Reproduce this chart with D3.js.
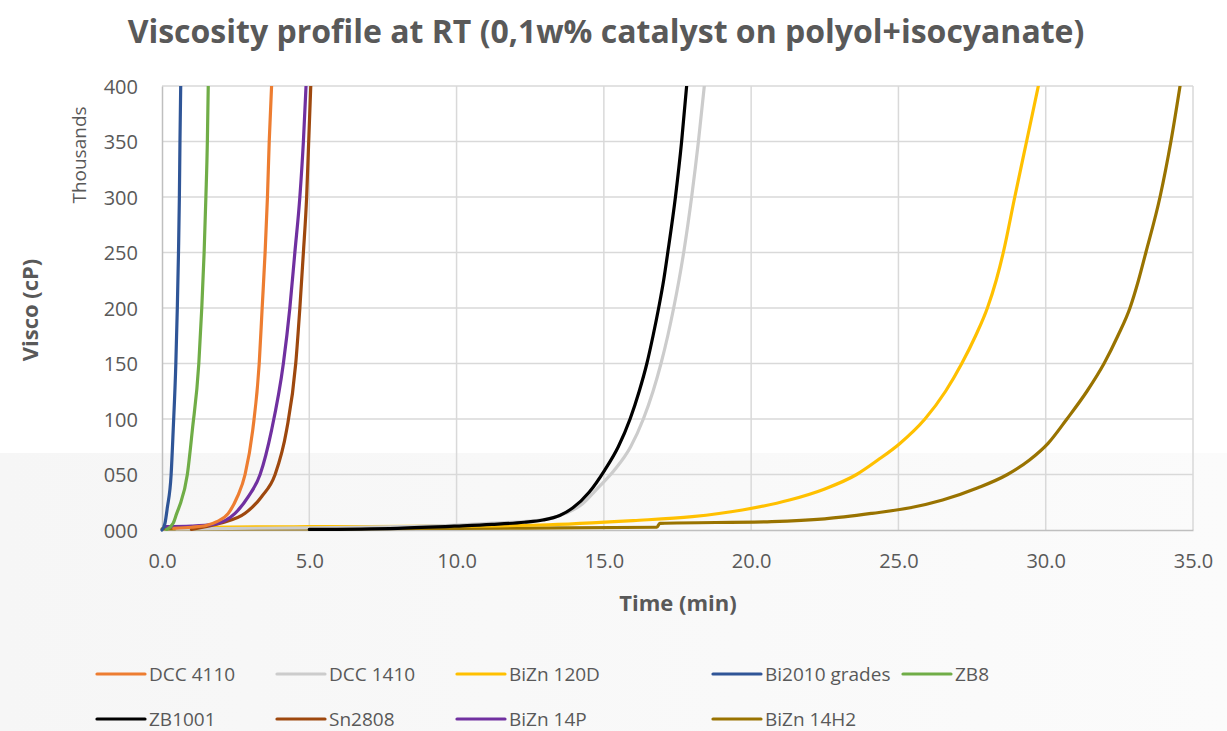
<!DOCTYPE html>
<html>
<head>
<meta charset="utf-8">
<script src="https://cdn.jsdelivr.net/npm/d3@7"></script>
<style>
  body { margin: 0; background: #fff; }
  svg { display: block; font-family: "Open Sans", sans-serif; }
</style>
</head>
<body>
<svg id="chart" width="1227" height="731"></svg>
<script>
// series names and colours, in legend order
var seriesNames = ["DCC 4110", "DCC 1410", "BiZn 120D", "Bi2010 grades", "ZB8",
                   "ZB1001", "Sn2808", "BiZn 14P", "BiZn 14H2"];
var seriesColors = ["#ED7D31", "#CCCCCC", "#FFC000", "#2F5597", "#70AD47",
                    "#000000", "#9E480E", "#7030A0", "#997300"];

// [time (min), viscosity (thousand cP)]
var dcc4110 = [[0.4,1.5],[1.0,2.5],[1.5,4],[1.86,7.5],[2.25,15],[2.56,30],[2.82,50],[3.08,90],[3.3,150],[3.4,200],[3.5,250],[3.58,300],[3.64,350],[3.72,400]];
var dcc1410 = [[0.5,1],[5,2],[8,3],[10,4.5],[11.5,6.5],[12.5,8],[13.1,10],[13.7,15],[14.2,22],[14.8,38],[15.36,54],[15.91,75],[16.34,100],[16.67,125],[16.94,150],[17.17,175],[17.37,200],[17.55,225],[17.71,250],[17.98,300],[18.21,350],[18.41,400]];
var bizn120d = [[1.5,2.5],[5,3],[10,3.5],[12.8,4.5],[16,8.5],[18,12],[19.7,18],[21.3,27],[22.5,37],[23.58,50],[24.3,63],[25.05,78],[25.9,100],[26.6,125],[27.15,150],[27.62,175],[28.02,200],[28.32,225],[28.56,250],[28.95,300],[29.35,350],[29.75,400]];
var bi2010 = [[0,0],[0.1,6],[0.18,20],[0.31,50],[0.38,90],[0.47,150],[0.52,200],[0.56,250],[0.59,300],[0.61,350],[0.635,400]];
var zb8 = [[0.16,0.5],[0.38,6],[0.5,15],[0.6,22],[0.86,50],[1.03,90],[1.25,150],[1.35,200],[1.43,250],[1.49,300],[1.54,350],[1.57,400]];
var zb1001 = [[5,0.5],[8,1.5],[10,3.5],[11.2,5],[12.3,7],[12.93,9],[13.5,13],[13.95,20],[14.5,34],[15.03,54],[15.49,75],[15.89,100],[16.2,125],[16.46,150],[16.67,175],[16.86,200],[17.03,225],[17.17,250],[17.43,300],[17.64,350],[17.81,400]];
var sn2808 = [[1.0,0.5],[1.97,6],[2.82,15],[3.38,30],[3.84,50],[4.23,90],[4.54,150],[4.68,200],[4.8,250],[4.91,300],[4.98,350],[5.05,400]];
var bizn14p = [[0.1,3],[1.0,3.5],[1.74,5],[2.48,15],[2.93,30],[3.33,50],[3.72,90],[4.12,150],[4.34,200],[4.51,250],[4.68,300],[4.8,350],[4.89,400]];
var bizn14h2 = [[0,1],[5,1],[10,1.5],[16.8,2.5],[16.9,6],[20.7,7.5],[22.5,10],[24.1,15],[25.4,20],[26.5,27],[27.7,38],[28.7,50],[29.45,63],[30.08,78],[30.72,100],[31.4,125],[31.98,150],[32.45,175],[32.86,200],[33.15,225],[33.4,250],[33.88,300],[34.25,350],[34.56,400]];
var seriesData = [dcc4110, dcc1410, bizn120d, bi2010, zb8, zb1001, sn2808, bizn14p, bizn14h2];
// drawing order (back to front)
var drawOrder = [8, 2, 1, 5, 6, 7, 0, 4, 3];

var xTicks = [0, 5, 10, 15, 20, 25, 30, 35];
var yTicks = [0, 50, 100, 150, 200, 250, 300, 350, 400];

var svg = d3.select("#chart");
var W = 1227, H = 731;
var margin = { top: 86, right: 34, bottom: 201, left: 162 };
var iw = W - margin.left - margin.right,
    ih = H - margin.top - margin.bottom;
var textColor = "#595959";

// slide background: lower part is faintly grey
var defs = svg.append("defs");
var grad = defs.append("linearGradient").attr("id", "bg").attr("x1", 0).attr("x2", 1).attr("y1", 0).attr("y2", 0);
grad.append("stop").attr("offset", "0%").attr("stop-color", "#f6f6f6");
grad.append("stop").attr("offset", "100%").attr("stop-color", "#fbfbfb");
svg.append("rect").attr("x", 0).attr("y", 453).attr("width", W).attr("height", H - 453).attr("fill", "url(#bg)");

defs.append("clipPath").attr("id", "plotclip")
  .append("rect").attr("x", -3).attr("y", 0).attr("width", iw + 6).attr("height", ih + 2);

var x = d3.scaleLinear().domain([0, 35]).range([0, iw]);
var y = d3.scaleLinear().domain([0, 400]).range([ih, 0]);

var g = svg.append("g").attr("transform", "translate(" + margin.left + "," + margin.top + ")");

// gridlines
g.append("g").selectAll("line.h").data(yTicks.slice(1)).join("line")
  .attr("x1", 0).attr("x2", iw).attr("y1", d => y(d)).attr("y2", d => y(d))
  .attr("stroke", "#d9d9d9").attr("stroke-width", 1.5);
g.append("g").selectAll("line.v").data(xTicks.slice(1)).join("line")
  .attr("y1", 0).attr("y2", ih).attr("x1", d => x(d)).attr("x2", d => x(d))
  .attr("stroke", "#d9d9d9").attr("stroke-width", 1.5);

// axes
var xAxis = g.append("g").attr("transform", "translate(0," + ih + ")")
  .call(d3.axisBottom(x).tickValues(xTicks).tickFormat(d3.format(".1f")).tickSize(0).tickPadding(24));
var yAxis = g.append("g")
  .call(d3.axisLeft(y).tickValues(yTicks).tickFormat(d3.format("03d")).tickSize(0).tickPadding(24));
[xAxis, yAxis].forEach(function(a) {
  a.select(".domain").attr("stroke", "#bfbfbf").attr("stroke-width", 1.5);
  a.selectAll("text").attr("fill", textColor).attr("font-size", 20).attr("font-family", "Open Sans");
});
yAxis.selectAll("text").attr("dy", "0.36em");

// series lines
var line = d3.line().x(d => x(d[0])).y(d => y(d[1])).curve(d3.curveMonotoneX);
var lines = g.append("g").attr("clip-path", "url(#plotclip)");
drawOrder.forEach(function(i) {
  lines.append("path").datum(seriesData[i])
    .attr("d", line).attr("fill", "none")
    .attr("stroke", seriesColors[i]).attr("stroke-width", 3.2)
    .attr("stroke-linejoin", "round").attr("stroke-linecap", "round");
});

// titles
svg.append("text").attr("x", 606).attr("y", 43).attr("text-anchor", "middle")
  .attr("font-size", 32).attr("font-weight", 700).attr("fill", textColor)
  .text("Viscosity profile at RT (0,1w% catalyst on polyol+isocyanate)");
svg.append("text").attr("x", 678).attr("y", 611).attr("text-anchor", "middle")
  .attr("font-size", 22).attr("font-weight", 700).attr("fill", textColor)
  .text("Time (min)");
svg.append("text").attr("transform", "translate(38,310) rotate(-90)").attr("text-anchor", "middle")
  .attr("font-size", 22).attr("font-weight", 700).attr("fill", textColor)
  .text("Visco (cP)");
svg.append("text").attr("transform", "translate(86,155) rotate(-90)").attr("text-anchor", "middle")
  .attr("font-size", 19).attr("fill", textColor)
  .text("Thousands");

// legend: two rows, column starts as laid out in the original
var colX = [97, 277, 457, 713, 903];
var rowY = [674, 719];
var legend = svg.append("g");
seriesNames.forEach(function(name, i) {
  var row = i < 5 ? 0 : 1, col = i < 5 ? i : i - 5;
  var lx = colX[col], ly = rowY[row];
  legend.append("line").attr("x1", lx).attr("x2", lx + 48).attr("y1", ly).attr("y2", ly)
    .attr("stroke", seriesColors[i]).attr("stroke-width", 3.2).attr("stroke-linecap", "round");
  legend.append("text").attr("x", lx + 52).attr("y", ly).attr("dy", "0.36em")
    .attr("font-size", 19).attr("fill", textColor).text(name);
});
</script>
</body>
</html>
